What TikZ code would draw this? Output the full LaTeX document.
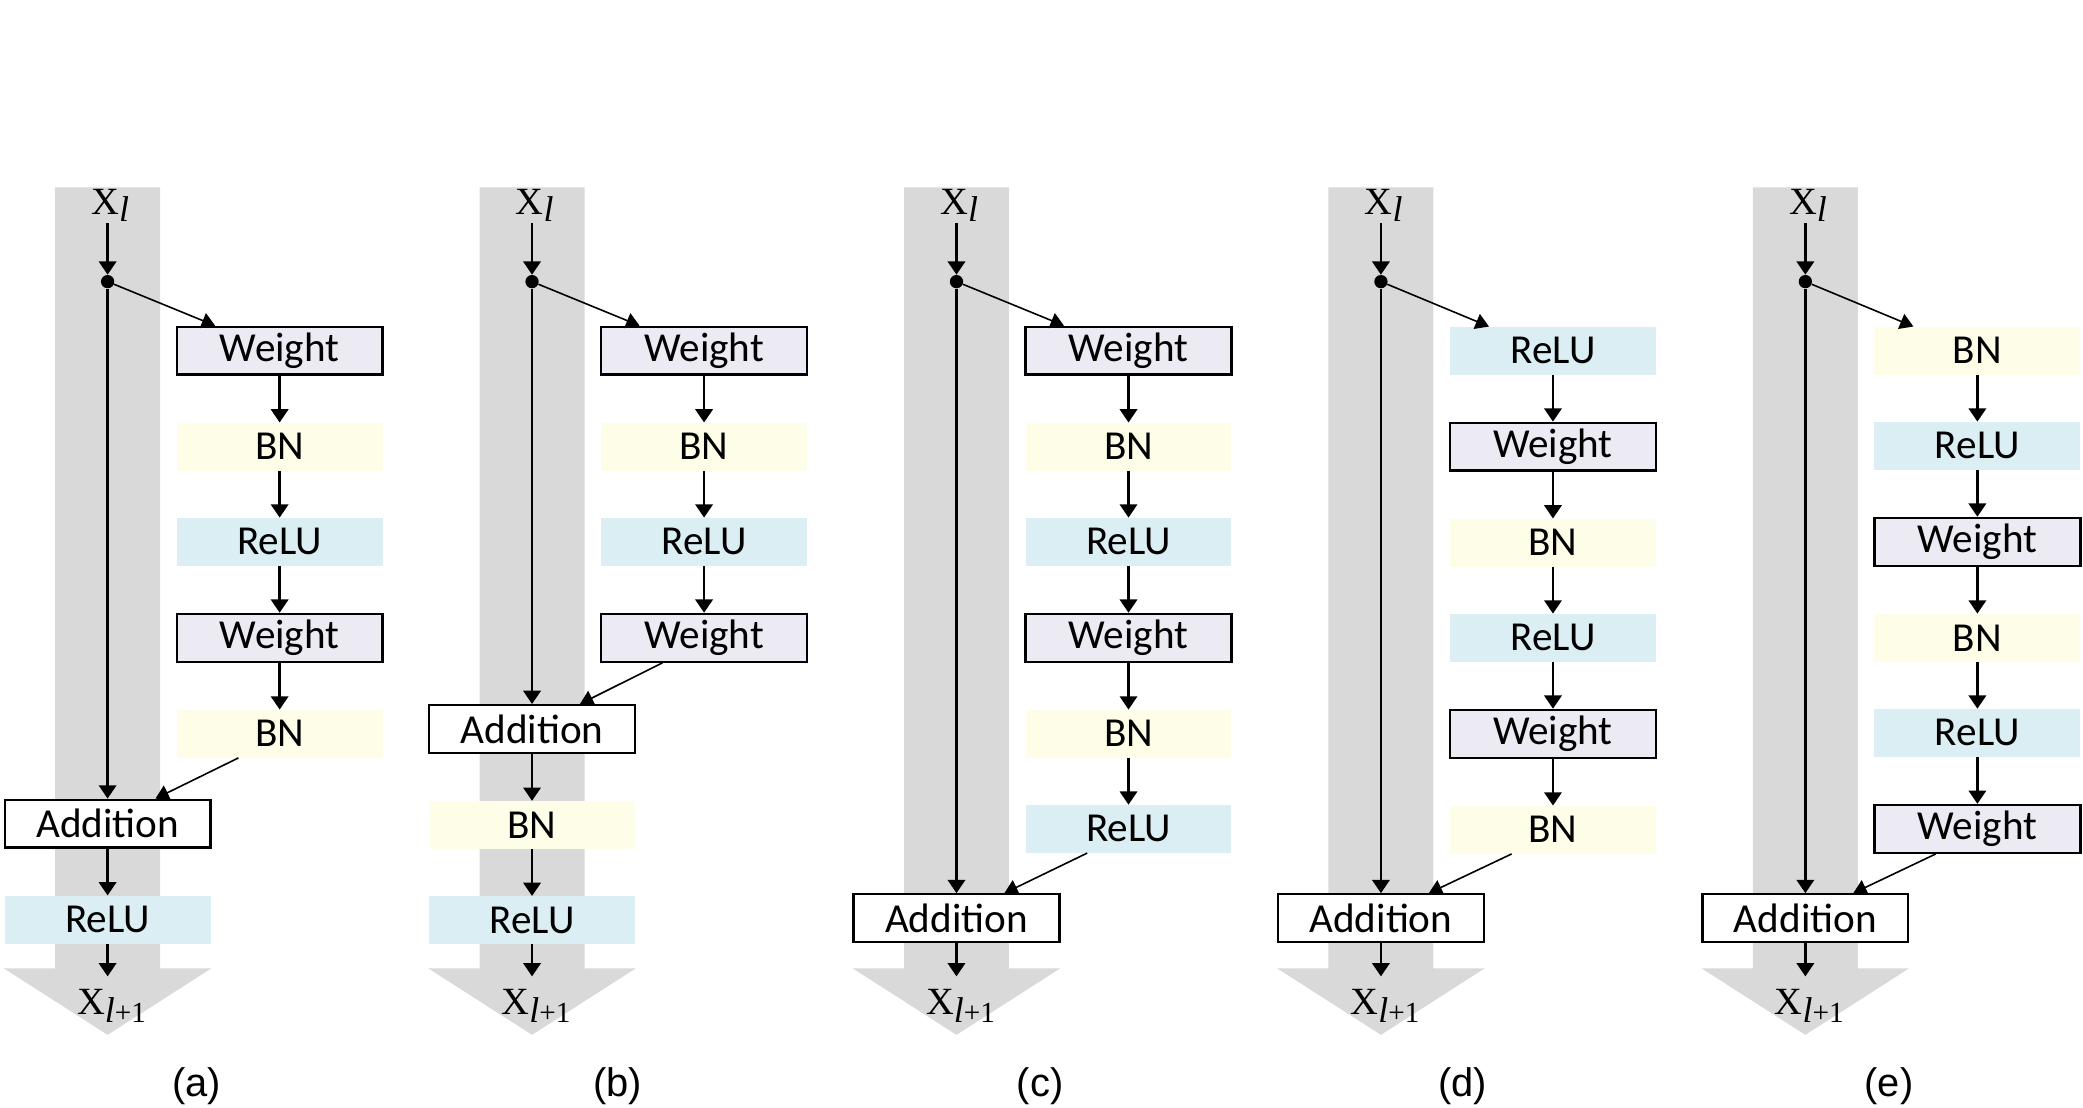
\documentclass[tikz,border=0pt]{standalone}
\usepackage{fontspec}
\setmainfont{Carlito}
\newfontfamily\timesfont{Liberation Serif}
\newfontfamily\arialfont{Liberation Sans}
\usetikzlibrary{positioning,calc,arrows.meta}

\definecolor{bandgray}{HTML}{D9D9D9}
\definecolor{weightfill}{HTML}{ECEAF3}
\definecolor{bnfill}{HTML}{FEFDE8}
\definecolor{relufill}{HTML}{DAEEF3}

\newcommand{\inlabel}{{\timesfont\fontsize{29}{31}\selectfont X\raisebox{-5pt}{\fontsize{27}{27}\selectfont\itshape l}}}
\newcommand{\outlabel}{{\timesfont\fontsize{29}{31}\selectfont X\raisebox{-6pt}{\fontsize{27}{27}\selectfont\itshape l\fontsize{22}{22}\selectfont\upshape +1}}}

\tikzset{
  layer/.style={minimum width=155pt, minimum height=36pt, inner sep=0pt,
    font=\fontsize{31}{34}\selectfont},
  weightbox/.style={layer, draw, line width=1.7pt, fill=weightfill},
  bnbox/.style={layer, fill=bnfill},
  relubox/.style={layer, fill=relufill},
  addbox/.style={layer, draw, line width=1.7pt, fill=white},
  flow/.style={-{Triangle[length=10pt,width=13pt]}, line width=2pt},
  side/.style={-{Triangle[length=10pt,width=12pt]}, line width=1.2pt},
  junction/.style={circle, fill, inner sep=0pt, minimum size=10pt},
}

\begin{document}
\begin{tikzpicture}[x=1pt, y=-1pt, node distance=35.2pt]
\useasboundingbox (0,0) rectangle (1568,834);

% identity band, input, split point and caption of each block
\foreach \p/\cx/\lx in {a/81/148, b/400.5/465, c/720/783, d/1039.5/1101, e/1359/1422} {
  \fill[bandgray] (\cx-39.5,141) -- (\cx+39.5,141) -- (\cx+39.5,729) -- (\cx+78,729)
    -- (\cx,779) -- (\cx-78,729) -- (\cx-39.5,729) -- cycle;
  \node[inner sep=1pt, anchor=south] (\p in) at (\cx+2,168) {\inlabel};
  \node[junction] (\p dot) at (\cx,212) {};
  \node[inner sep=1pt] (\p out) at (\cx+3,757) {\outlabel};
  \coordinate (\p end) at (\cx,735);
  \node[font=\arialfont\fontsize{30}{32}\selectfont] (\p cap) at (\lx,818) {(\p)};
  \draw[flow] (\p in.south -| \p dot) -- (\p dot);
}

% (a)
\node[weightbox] (a1) at (210.5,264) {Weight};
\node[bnbox, below=of a1] (a2) {BN};
\node[relubox, below=of a2] (a3) {ReLU};
\node[weightbox, below=of a3] (a4) {Weight};
\node[bnbox, below=of a4] (a5) {BN};
\node[addbox] (aadd) at (81,620) {Addition};
\node[relubox, below=of aadd] (arelu) {ReLU};
\foreach \i/\j in {1/2,2/3,3/4,4/5} \draw[flow] (a\i) -- (a\j);
\draw[flow] (adot) -- (aadd);
\draw[side] (adot) -- ($(a1.north west)!0.19!(a1.north east)$);
\draw[side] ($(a5.south west)!0.3!(a5.south east)$) -- ($(aadd.north west)!0.73!(aadd.north east)$);
\draw[flow] (aadd) -- (arelu);
\draw[flow] (arelu) -- (aend);

% (b)
\node[weightbox] (b1) at (530,264) {Weight};
\node[bnbox, below=of b1] (b2) {BN};
\node[relubox, below=of b2] (b3) {ReLU};
\node[weightbox, below=of b3] (b4) {Weight};
\node[addbox] (badd) at (400.5,548.8) {Addition};
\node[bnbox, below=of badd] (bbn) {BN};
\node[relubox, below=of bbn] (brelu) {ReLU};
\foreach \i/\j in {1/2,2/3,3/4} \draw[flow] (b\i) -- (b\j);
\draw[flow] (bdot) -- (badd);
\draw[side] (bdot) -- ($(b1.north west)!0.19!(b1.north east)$);
\draw[side] ($(b4.south west)!0.3!(b4.south east)$) -- ($(badd.north west)!0.73!(badd.north east)$);
\draw[flow] (badd) -- (bbn);
\draw[flow] (bbn) -- (brelu);
\draw[flow] (brelu) -- (bend);

% (c)
\node[weightbox] (c1) at (849.5,264) {Weight};
\node[bnbox, below=of c1] (c2) {BN};
\node[relubox, below=of c2] (c3) {ReLU};
\node[weightbox, below=of c3] (c4) {Weight};
\node[bnbox, below=of c4] (c5) {BN};
\node[relubox, below=of c5] (c6) {ReLU};
\node[addbox] (cadd) at (720,691.2) {Addition};
\foreach \i/\j in {1/2,2/3,3/4,4/5,5/6} \draw[flow] (c\i) -- (c\j);
\draw[flow] (cdot) -- (cadd);
\draw[side] (cdot) -- ($(c1.north west)!0.19!(c1.north east)$);
\draw[side] ($(c6.south west)!0.3!(c6.south east)$) -- ($(cadd.north west)!0.73!(cadd.north east)$);
\draw[flow] (cadd) -- (cend);

% (d)
\node[relubox] (d1) at (1169,264) {ReLU};
\node[weightbox, below=of d1] (d2) {Weight};
\node[bnbox, below=of d2] (d3) {BN};
\node[relubox, below=of d3] (d4) {ReLU};
\node[weightbox, below=of d4] (d5) {Weight};
\node[bnbox, below=of d5] (d6) {BN};
\node[addbox] (dadd) at (1039.5,691.2) {Addition};
\foreach \i/\j in {1/2,2/3,3/4,4/5,5/6} \draw[flow] (d\i) -- (d\j);
\draw[flow] (ddot) -- (dadd);
\draw[side] (ddot) -- ($(d1.north west)!0.19!(d1.north east)$);
\draw[side] ($(d6.south west)!0.3!(d6.south east)$) -- ($(dadd.north west)!0.73!(dadd.north east)$);
\draw[flow] (dadd) -- (dend);

% (e)
\node[bnbox] (e1) at (1488.5,264) {BN};
\node[relubox, below=of e1] (e2) {ReLU};
\node[weightbox, below=of e2] (e3) {Weight};
\node[bnbox, below=of e3] (e4) {BN};
\node[relubox, below=of e4] (e5) {ReLU};
\node[weightbox, below=of e5] (e6) {Weight};
\node[addbox] (eadd) at (1359,691.2) {Addition};
\foreach \i/\j in {1/2,2/3,3/4,4/5,5/6} \draw[flow] (e\i) -- (e\j);
\draw[flow] (edot) -- (eadd);
\draw[side] (edot) -- ($(e1.north west)!0.19!(e1.north east)$);
\draw[side] ($(e6.south west)!0.3!(e6.south east)$) -- ($(eadd.north west)!0.73!(eadd.north east)$);
\draw[flow] (eadd) -- (eend);
\end{tikzpicture}
\end{document}
